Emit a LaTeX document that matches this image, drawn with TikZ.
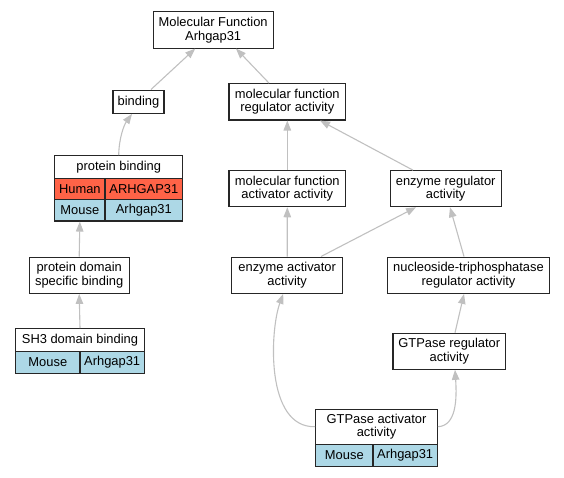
\documentclass[tikz,border=0pt]{standalone}
\usepackage{fontspec}
\setmainfont{Liberation Sans}
\usetikzlibrary{arrows.meta}
\definecolor{hum}{HTML}{FF6347}
\definecolor{mou}{HTML}{ADD8E6}
\definecolor{edgegray}{HTML}{C0C0C0}
\definecolor{bordergray}{HTML}{262626}
\begin{document}
\begin{tikzpicture}[x=1pt,y=-1pt,
  box/.style={draw=bordergray, line width=1.1pt, fill=white, inner sep=0pt, align=center,
    font=\fontsize{12.9}{13.6}\selectfont},
  human/.style={box, fill=hum},
  mouse/.style={box, fill=mou},
  edge/.style={draw=edgegray, line width=1.1pt, -{Triangle[length=10pt,width=7.5pt]}}]
\useasboundingbox (0,0) rectangle (564,477);

% nodes
\node[box, minimum width=120.3pt, minimum height=36.3pt] (mf) at (213.2,29.9) {Molecular Function\\Arhgap31};
\node[box, minimum width=51pt, minimum height=23.3pt] (bind) at (138.5,101.7) {binding};
\node[box, minimum width=116.7pt, minimum height=36.3pt] (mfra) at (287.3,101.8) {molecular function\\regulator activity};

\node[box, minimum width=128pt, minimum height=23pt] (pb) at (118.7,167.2) {protein binding};
\node[human, minimum width=50.3pt, minimum height=21pt] (pbh1) at (79.85,189.2) {Human};
\node[human, minimum width=77.7pt, minimum height=21pt] (pbh2) at (143.85,189.2) {ARHGAP31};
\node[mouse, minimum width=50.3pt, minimum height=21.3pt] (pbm1) at (79.85,210.35) {Mouse};
\node[mouse, minimum width=77.7pt, minimum height=21.3pt] (pbm2) at (143.85,210.35) {Arhgap31};

\node[box, minimum width=116.7pt, minimum height=36pt] (mfaa) at (287.3,188.7) {molecular function\\activator activity};
\node[box, minimum width=110.7pt, minimum height=36pt] (er) at (445.7,188.7) {enzyme regulator\\activity};

\node[box, minimum width=100.3pt, minimum height=36.3pt] (pdsb) at (79.2,275.2) {protein domain\\specific binding};
\node[box, minimum width=111pt, minimum height=36.3pt] (eaa) at (287.2,275.2) {enzyme activator\\activity};
\node[box, minimum width=161.6pt, minimum height=36.3pt] (ntp) at (468.5,275.2) {nucleoside-triphosphatase\\regulator activity};

\node[box, minimum width=128.6pt, minimum height=22.6pt] (sh3) at (80,340) {SH3 domain binding};
\node[mouse, minimum width=64.3pt, minimum height=22pt] (sh3m1) at (47.85,362.3) {Mouse};
\node[mouse, minimum width=64.3pt, minimum height=22pt] (sh3m2) at (112.15,362.3) {Arhgap31};

\node[box, minimum width=112.7pt, minimum height=36pt] (gtpr) at (449.3,351.3) {GTPase regulator\\activity};

\node[box, minimum width=121.6pt, minimum height=35.3pt] (gap) at (376.5,426.7) {GTPase activator\\activity};
\node[mouse, minimum width=57.3pt, minimum height=22.3pt] (gapm1) at (344.35,455.5) {Mouse};
\node[mouse, minimum width=64.3pt, minimum height=22.3pt] (gapm2) at (405.15,455.5) {Arhgap31};

% edges
\draw[edge] ([xshift=12.5pt]bind.north) -- ([xshift=-18pt]mf.south);
\draw[edge] ([xshift=-18.3pt]mfra.north) -- ([xshift=22.8pt]mf.south);
\draw[edge] (pb.north) .. controls (119,138) and (124,125) .. ([xshift=-6.5pt]bind.south);
\draw[edge] (mfaa.north) -- (mfra.south);
\draw[edge] ([xshift=-32.7pt]er.north) -- ([xshift=32.7pt]mfra.south);
\draw[edge] (pdsb.north) -- (pbm1.south);
\draw[edge] (eaa.north) -- (mfaa.south);
\draw[edge] ([xshift=33.8pt]eaa.north) -- ([xshift=-29.7pt]er.south);
\draw[edge] ([xshift=-4.5pt]ntp.north) -- ([xshift=4.3pt]er.south);
\draw[edge] (sh3.north) -- (pdsb.south);
\draw[edge] ([xshift=5.7pt]gtpr.north) -- ([xshift=-4.5pt]ntp.south);
\draw[edge] (gap.west) .. controls (265,428) and (270,330) .. ([xshift=-4pt]eaa.south);
\draw[edge] (gap.east) .. controls (456,426) and (457,400) .. ([xshift=5.7pt]gtpr.south);
\end{tikzpicture}
\end{document}
